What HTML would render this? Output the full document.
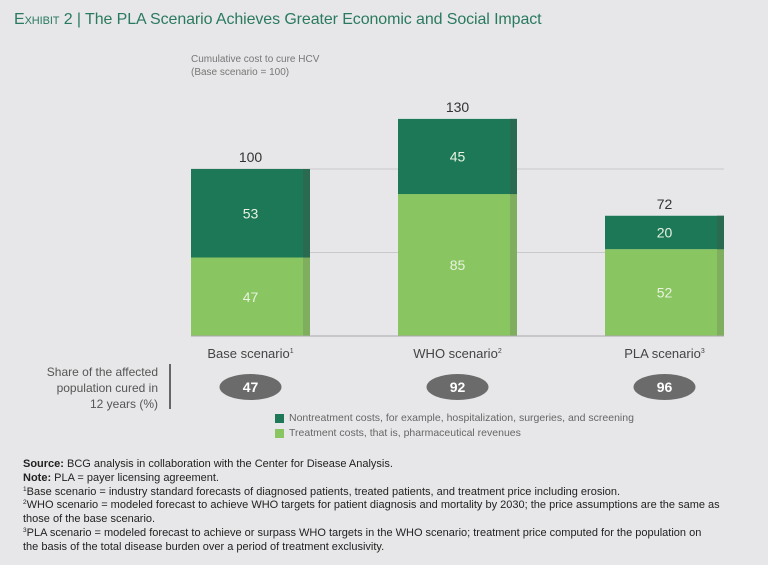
<!DOCTYPE html>
<html><head><meta charset="utf-8"><style>
body{margin:0;width:768px;height:565px;background:#e7e7e9;font-family:"Liberation Sans",sans-serif;overflow:hidden;position:relative}
.t{position:absolute;white-space:nowrap}
.s{font-size:6.5px;position:relative;top:-4px;vertical-align:baseline;line-height:0}
</style></head><body>
<div class="t" style="left:14px;top:11px;font-size:16px;color:#2a7a5f;letter-spacing:-0.1px"><span style="font-variant:small-caps">Exhibit 2</span> | The PLA Scenario Achieves Greater Economic and Social Impact</div>
<div class="t" style="left:191px;top:53px;font-size:10px;color:#777;line-height:13px">Cumulative cost to cure HCV<br>(Base scenario = 100)</div>
<svg id="chart" width="768" height="565" style="position:absolute;left:0;top:0"></svg>
<div class="t" style="left:20px;top:364px;width:138px;text-align:right;font-size:12px;color:#555;line-height:16px">Share of the affected<br>population cured in<br>12 years (%)</div>
<div style="position:absolute;left:169px;top:364px;width:2px;height:45px;background:#666"></div>
<div>
<div style="position:absolute;left:275px;top:414px;width:9px;height:9px;background:#1d7857"></div>
<div class="t" style="left:289px;top:412px;font-size:10.5px;color:#666">Nontreatment costs, for example, hospitalization, surgeries, and screening</div>
<div style="position:absolute;left:275px;top:429px;width:9px;height:9px;background:#89c561"></div>
<div class="t" style="left:289px;top:427px;font-size:10.5px;color:#666">Treatment costs, that is, pharmaceutical revenues</div>
</div>
<div class="t" style="left:23px;top:458px;font-size:11px;color:#222;line-height:13.8px">
<b>Source:</b> BCG analysis in collaboration with the Center for Disease Analysis.<br>
<b>Note:</b> PLA = payer licensing agreement.<br>
<span class="s">1</span>Base scenario = industry standard forecasts of diagnosed patients, treated patients, and treatment price including erosion.<br>
<span class="s">2</span>WHO scenario = modeled forecast to achieve WHO targets for patient diagnosis and mortality by 2030; the price assumptions are the same as<br>
those of the base scenario.<br>
<span class="s">3</span>PLA scenario = modeled forecast to achieve or surpass WHO targets in the WHO scenario; treatment price computed for the population on<br>
the basis of the total disease burden over a period of treatment exclusivity.
</div>
<script>
const categories=["Base scenario","WHO scenario","PLA scenario"];
const sups=["1","2","3"];
const treatment=[47,85,52];
const nontreatment=[53,45,20];
const totals=[100,130,72];
const shareCured=[47,92,96];
const gridVals=[50,100];
const svg=document.getElementById('chart');
const NS='http://www.w3.org/2000/svg';
const y0=336,scale=1.67,x0=191,step=207,bw=119;
const y=v=>y0-v*scale;
const xb=i=>x0+i*step;
function mk(tag,attrs){const e=document.createElementNS(NS,tag);for(const k in attrs)e.setAttribute(k,attrs[k]);svg.appendChild(e);return e;}
gridVals.forEach(v=>{const l=mk('line',{x1:x0,x2:xb(2)+bw,y1:y(v),y2:y(v),stroke:'#c9c9cb','stroke-width':1});

});
categories.forEach((c,i)=>{
 const x=xb(i);
 const segs=[[0,treatment[i],'#89c561','#7fae5e','treatment'],[treatment[i],treatment[i]+nontreatment[i],'#1d7857','#2a6a50','nontreatment']];
 segs.forEach(s=>{
  const r=mk('rect',{x:x,y:y(s[1]),width:bw,height:(s[1]-s[0])*scale,fill:s[2]});
  
  
  const r2=mk('rect',{x:x+bw-7,y:y(s[1]),width:7,height:(s[1]-s[0])*scale,fill:s[3]});
  
  
  const t=mk('text',{x:x+bw/2,y:(y(s[0])+y(s[1]))/2+5,'text-anchor':'middle','font-size':14,fill:'#e8f3e0','font-family':'Liberation Sans'});
  t.textContent=s[1]-s[0];
  
  
 });
 const tt=mk('text',{x:x+bw/2,y:y(totals[i])-7,'text-anchor':'middle','font-size':14,fill:'#333','font-family':'Liberation Sans'});
 tt.textContent=totals[i];
 
 
 const cl=mk('text',{x:x+bw/2,y:358,'text-anchor':'middle','font-size':13,fill:'#444','font-family':'Liberation Sans'});
 cl.innerHTML=c+'<tspan font-size="7" dy="-5">'+sups[i]+'</tspan>';
 
 
 const el=mk('ellipse',{cx:x+bw/2,cy:387,rx:31,ry:13,fill:'#6b6b6b'});
 
 
 const st=mk('text',{x:x+bw/2,y:392,'text-anchor':'middle','font-size':14,'font-weight':'bold',fill:'#fff','font-family':'Liberation Sans'});
 st.textContent=shareCured[i];
 
 
});
const base=mk('line',{x1:x0,x2:xb(2)+bw,y1:y0,y2:y0,stroke:'#aaa','stroke-width':1});


</script>
</body></html>
